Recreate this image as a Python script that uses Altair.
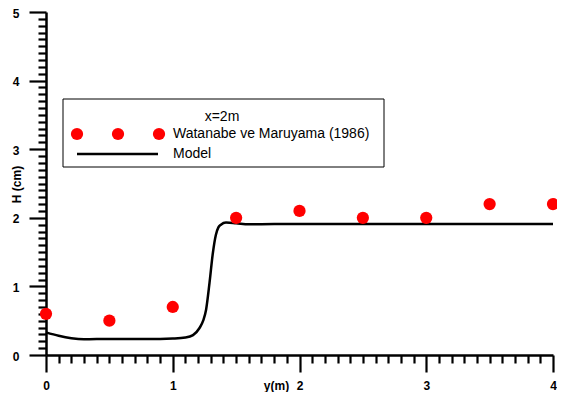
import altair as alt
import pandas as pd

# Observed data (Watanabe ve Maruyama 1986)
obs_x = [0.0, 0.5, 1.0, 1.5, 2.0, 2.5, 3.0, 3.5, 4.0]
obs_h = [0.6, 0.5, 0.7, 2.0, 2.1, 2.0, 2.0, 2.2, 2.2]

model_x = [0.0, 0.1, 0.2, 0.3, 0.5, 0.7, 0.9, 1.0, 1.1, 1.16, 1.21, 1.24, 1.263,
           1.29, 1.316, 1.34, 1.36, 1.38, 1.42, 1.5, 1.6, 1.8, 2.0, 2.5, 3.0, 3.5, 4.0]
model_h = [0.33, 0.28, 0.245, 0.23, 0.235, 0.235, 0.235, 0.24, 0.255, 0.29, 0.39, 0.5, 0.66,
           1.05, 1.48, 1.75, 1.86, 1.9, 1.93, 1.92, 1.905, 1.91, 1.91, 1.91, 1.91, 1.91, 1.91]

x_ticks = [round(i * 0.1, 1) for i in range(41)]
y_ticks = [round(i * 0.1, 1) for i in range(51)]

legend_title = "x=2m"
legend_obs = "Watanabe ve Maruyama (1986)"
legend_model = "Model"

FONT = "Liberation Sans"
is_major = "abs(datum.value - round(datum.value)) < 0.001"

obs_df = pd.DataFrame({"x": obs_x, "h": obs_h})
model_df = pd.DataFrame({"x": model_x, "h": model_h})

x_scale = alt.Scale(domain=[0, 4], nice=False, zero=False)
y_scale = alt.Scale(domain=[0, 5], nice=False, zero=False)

common = dict(
    grid=False,
    domainColor="black", domainWidth=2.5,
    tickColor="black", tickWidth=2.2, tickCount=200,
    tickSize={"condition": {"test": is_major, "value": 17}, "value": 8},
    labelExpr=f"{is_major} ? format(datum.value, 'd') : ''",
    labelFont=FONT, labelFontSize=12, labelFontWeight="bold", labelColor="black",
    labelOverlap=False, labelFlush=False, labelBound=False,
    titleFont=FONT, titleFontSize=12, titleFontWeight="bold", titleColor="black",
    titleAlign="center", titleBaseline="middle",
)

x_axis = alt.Axis(values=x_ticks, title="y(m)", labelPadding=8,
                  titleX=230, titleY=30, **common)
y_axis = alt.Axis(values=y_ticks, title="H (cm)", labelPadding=10, labelOffset=1,
                  titleAngle=270, titleX=-30, titleY=172, **common)

line = alt.Chart(model_df).mark_line(color="black", strokeWidth=2.5, interpolate="monotone").encode(
    x=alt.X("x:Q", scale=x_scale, axis=x_axis),
    y=alt.Y("h:Q", scale=y_scale, axis=y_axis),
)
pts = alt.Chart(obs_df).mark_circle(color="#ff0000", opacity=1, size=150).encode(
    x=alt.X("x:Q", scale=x_scale),
    y=alt.Y("h:Q", scale=y_scale),
)

one = pd.DataFrame({"a": [0]})
box = alt.Chart(one).mark_rect(fill="white", stroke="black", strokeWidth=1).encode(
    x=alt.value(17), x2=alt.value(338), y=alt.value(87), y2=alt.value(155)
)
ttl = alt.Chart(one).mark_text(font=FONT, fontSize=14, color="black", align="center", baseline="middle").encode(
    x=alt.value(176), y=alt.value(105), text=alt.value(legend_title)
)
dots = [
    alt.Chart(one).mark_circle(color="#ff0000", opacity=1).encode(
        x=alt.value(px), y=alt.value(122), size=alt.value(150)
    )
    for px in (31, 72, 113)
]
obs_lbl = alt.Chart(one).mark_text(font=FONT, fontSize=14, color="black", align="left", baseline="middle").encode(
    x=alt.value(127), y=alt.value(122), text=alt.value(legend_obs)
)
lg_line = alt.Chart(one).mark_rule(color="black", strokeWidth=2.5).encode(
    x=alt.value(31), x2=alt.value(112), y=alt.value(142)
)
mod_lbl = alt.Chart(one).mark_text(font=FONT, fontSize=14, color="black", align="left", baseline="middle").encode(
    x=alt.value(127), y=alt.value(142), text=alt.value(legend_model)
)

chart = alt.layer(line, pts, box, ttl, *dots, obs_lbl, lg_line, mod_lbl).properties(
    width=507, height=343,
    autosize=alt.AutoSizeParams(type="none"),
    padding={"left": 38, "top": 4, "right": 4, "bottom": 37},
    background="white",
).configure_view(stroke=None)

chart.save("out.html", embed_options={"renderer": "svg", "actions": False})
